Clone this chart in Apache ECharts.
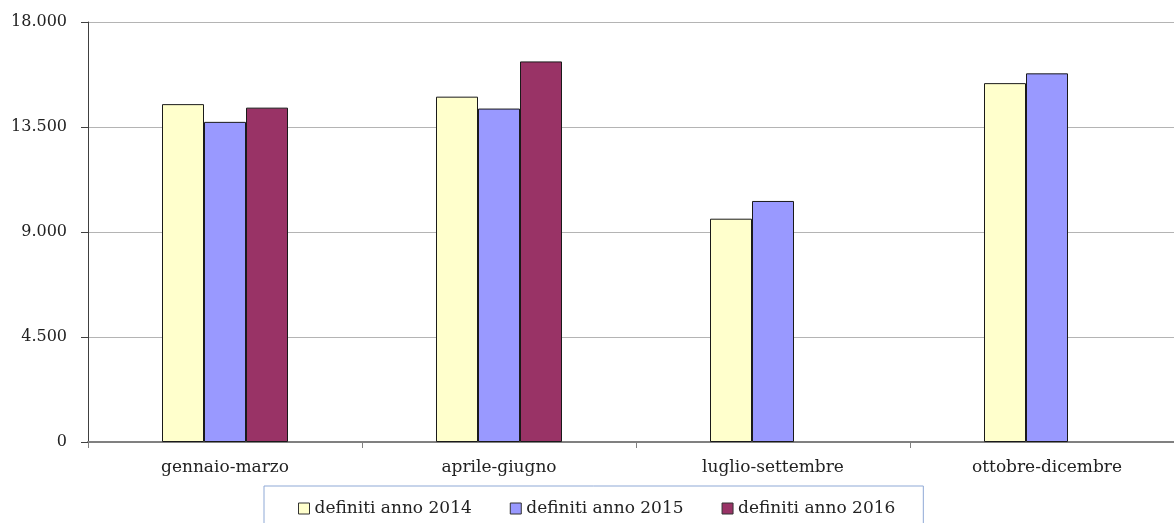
<!DOCTYPE html>
<html>
<head>
<meta charset="utf-8">
<script src="https://cdn.jsdelivr.net/npm/echarts@6/dist/echarts.min.js"></script>
<style>
  html, body { margin: 0; padding: 0; background: #fff; overflow: hidden; }
  /* il grafico originale è tagliato a destra: il contenitore è più largo della finestra */
  #chart { width: 1184px; height: 523px; }
</style>
</head>
<body>
<div id="chart"></div>
<script>
// trimestri
const categories = ['gennaio-marzo', 'aprile-giugno', 'luglio-settembre', 'ottobre-dicembre'];
const seriesNames = ['definiti anno 2014', 'definiti anno 2015', 'definiti anno 2016'];
const values2014 = [14480, 14800, 9570, 15380];
const values2015 = [13720, 14290, 10330, 15800];
const values2016 = [14330, 16310, null, null];
const yTicks = [0, 4500, 9000, 13500, 18000];

const colors = ['#FFFFCC', '#9999FF', '#993366'];
const font = 'DejaVu Serif';

function fmt(v) {
  // 13500 -> 13.500
  return String(v).replace(/\B(?=(\d{3})+(?!\d))/g, '.');
}

const chart = echarts.init(document.getElementById('chart'));

const barSeries = [values2014, values2015, values2016].map((data, i) => ({
  name: seriesNames[i],
  type: 'bar',
  data: data,
  barWidth: 42,
  barGap: '0%',
  itemStyle: {
    color: colors[i],
    borderColor: '#1a1a1a',
    borderWidth: 1
  }
}));

chart.setOption({
  animation: false,
  textStyle: { fontFamily: font },
  grid: {
    left: 88,
    top: 22,
    right: 0,
    height: 420,
    containLabel: false
  },
  legend: {
    left: 264,
    top: 486,
    orient: 'horizontal',
    itemWidth: 11,
    itemHeight: 11,
    itemGap: 38,
    padding: [14, 28, 30, 34],
    borderColor: '#8fa9d6',
    borderWidth: 1,
    icon: 'rect',
    itemStyle: { borderColor: '#333', borderWidth: 1 },
    textStyle: { fontFamily: font, fontSize: 17, color: '#222' },
    data: seriesNames
  },
  xAxis: {
    type: 'category',
    data: categories,
    axisLine: { lineStyle: { color: '#808080', width: 2 } },
    axisTick: { show: true, length: 6, lineStyle: { color: '#808080', width: 1 } },
    axisLabel: { fontFamily: font, fontSize: 17, color: '#222', margin: 17 },
    splitLine: { show: false }
  },
  yAxis: {
    type: 'value',
    min: yTicks[0],
    max: yTicks[yTicks.length - 1],
    interval: yTicks[1] - yTicks[0],
    axisLine: { show: true, lineStyle: { color: '#404040', width: 1 } },
    axisTick: { show: true, length: 7, lineStyle: { color: '#404040' } },
    axisLabel: {
      fontFamily: font,
      fontSize: 16,
      color: '#222',
      margin: 21,
      formatter: v => fmt(v)
    },
    splitLine: { lineStyle: { color: '#b4b4b4', width: 1 } }
  },
  series: barSeries
});
</script>
</body>
</html>
